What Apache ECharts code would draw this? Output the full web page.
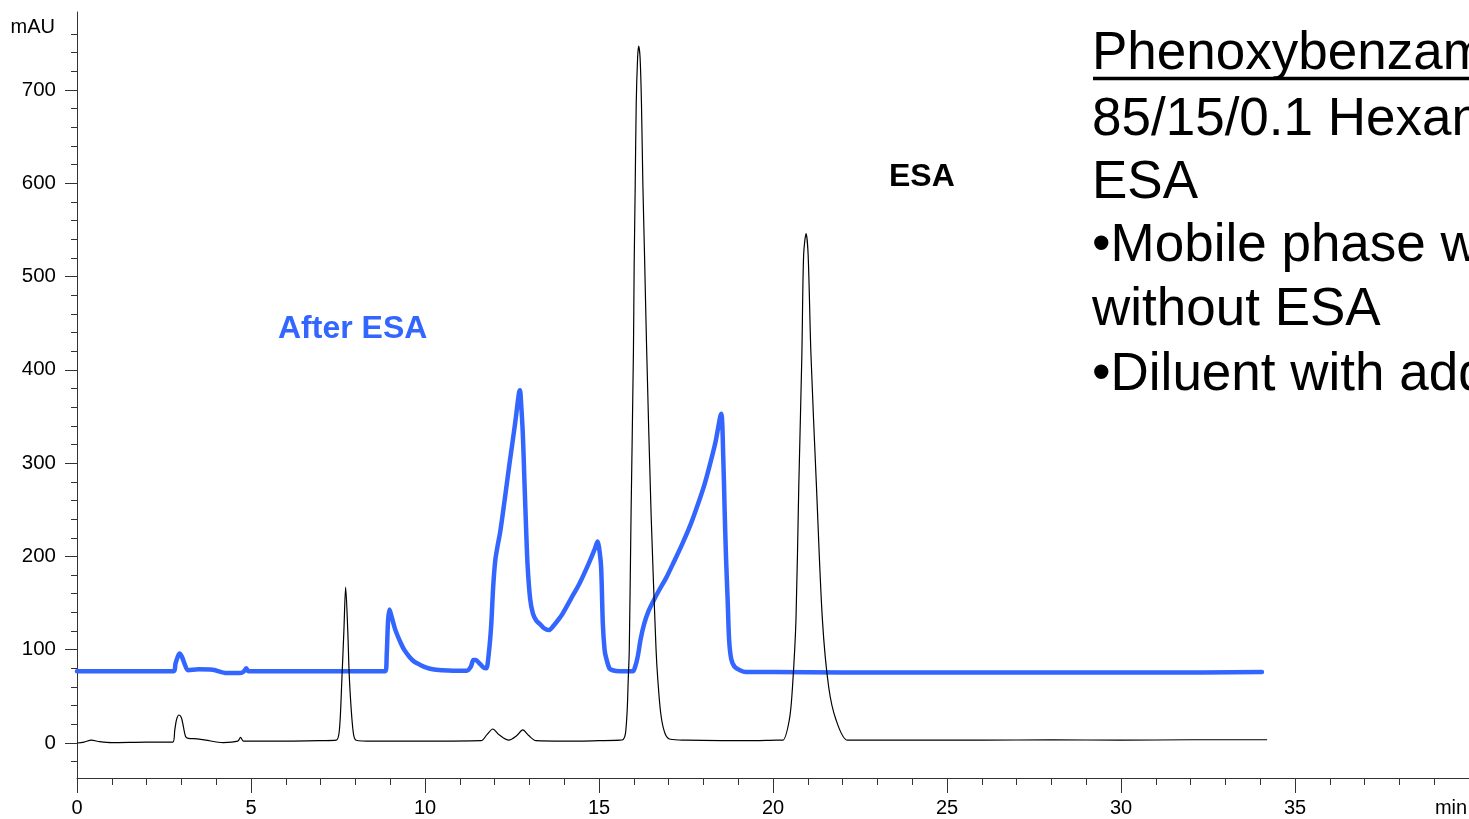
<!DOCTYPE html>
<html>
<head>
<meta charset="utf-8">
<script src="https://cdn.jsdelivr.net/npm/echarts@6/dist/echarts.min.js"></script>
<style>
html,body{margin:0;padding:0;background:#fff;}
#chart{width:1469px;height:819px;}
</style>
</head>
<body>
<div id="chart"></div>
<script>
// ---- data (minutes, mAU) ----
const xTickLabels = [0, 5, 10, 15, 20, 25, 30, 35];
const yMajorTicks = [0, 100, 200, 300, 400, 500, 600, 700];
const yMinorTicks = [-20, 20, 40, 60, 80, 120, 140, 160, 180, 220, 240, 260, 280, 320, 340, 360, 380,
  420, 440, 460, 480, 520, 540, 560, 580, 620, 640, 660, 680, 720, 740, 760];

// black trace (ESA)
const esaTrace = [
  [0,0],[0.2,1],[0.41,3],[0.65,1.5],[1.0,0.5],[2.0,1],[2.75,1],[2.81,14],[2.86,25],[2.93,30],
  [3.0,27],[3.06,17],[3.12,7],[3.2,5],[3.45,4.5],[3.7,3],[4.2,0.5],[4.62,2],[4.70,6],[4.78,2],
  [5.0,2],[6.0,2],[7.0,2.5],[7.45,3],[7.54,14],[7.61,67],[7.67,121],[7.72,167],[7.78,121],[7.83,67],
  [7.93,14],[8.02,3],[8.5,2],[10.0,2],[11.61,2.5],[11.78,9],[11.95,15],[12.12,9],[12.41,3],[12.64,8],
  [12.81,14],[12.98,8],[13.19,2.5],[14.0,2],[15.0,2.5],[15.6,3],[15.70,4],[15.76,10],[15.81,35],[15.84,68],
  [15.87,100],[15.92,242],[15.99,421],[16.01,510],[16.04,596],[16.07,686],[16.11,735],[16.14,747],[16.18,735],[16.22,686],
  [16.26,600],[16.31,520],[16.37,421],[16.50,242],[16.64,100],[16.69,68],[16.78,30],[16.90,10],[17.05,4],[17.5,3],
  [18.5,2.5],[19.5,2.5],[20.1,3],[20.28,3],[20.47,25],[20.56,60],[20.66,132],[20.74,274],[20.83,417],[20.88,523],
  [20.95,546],[21.01,523],[21.09,417],[21.25,274],[21.42,132],[21.60,60],[21.81,25],[22.14,3],[22.6,3],[24,3],
  [26,3],[28,3.5],[30,3],[32,3.5],[34.2,3.5]
];

// blue trace (After ESA)
const afterEsaTrace = [
  [0,77],[2.78,77],[2.83,85],[2.9,93],[2.95,96],[3.02,92],[3.1,84],[3.19,78],[3.5,79],[3.9,78.5],
  [4.3,75],[4.7,75],[4.8,77],[4.86,80],[4.93,77],[5.5,77],[7,77],[8.86,77],[8.9,95],[8.94,132],
  [8.98,143],[9.05,134],[9.15,121],[9.27,110],[9.4,100],[9.56,92],[9.7,87],[9.85,84],[10.02,81],[10.22,79],
  [10.5,78],[10.8,77.5],[11.2,77.5],[11.32,82],[11.39,89],[11.46,89],[11.55,86],[11.68,81],[11.76,80],[11.83,95],
  [11.90,125],[11.96,168],[12.02,196],[12.08,210],[12.16,226],[12.28,258],[12.43,300],[12.58,340],[12.70,375],[12.73,378],
  [12.76,365],[12.81,332],[12.86,278],[12.91,225],[12.95,189],[13.02,155],[13.10,139],[13.2,131],[13.29,128],[13.42,123],
  [13.56,121],[13.7,126],[13.85,133],[13.96,139],[14.2,155],[14.44,171],[14.7,192],[14.88,208],[14.96,216],[15.0,210],
  [15.06,189],[15.11,128],[15.16,100],[15.20,92],[15.30,80],[15.39,78],[15.59,77],[15.97,77],[16.04,82],[16.11,92],
  [16.2,112],[16.30,128],[16.42,141],[16.56,152],[16.73,164],[16.93,177],[17.15,194],[17.40,214],[17.65,236],[17.88,260],
  [18.03,277],[18.17,296],[18.35,323],[18.51,353],[18.57,307],[18.61,250],[18.65,199],[18.70,150],[18.74,110],[18.8,90],
  [18.89,82],[19.05,78],[19.22,76],[20,76],[22,75.5],[25,75.5],[28,75.5],[31,75.5],[34.05,76]
];

const noteLines = [
  'Phenoxybenzamine',
  '85/15/0.1 Hexane/IPA/',
  'ESA',
  '\u2022Mobile phase with and',
  'without ESA',
  '\u2022Diluent with added ESA'
];

const FONT = '"Liberation Sans", Arial, sans-serif';
const AXIS_COLOR = '#333';

const chart = echarts.init(document.getElementById('chart'), null, {renderer: 'canvas'});

const noteY = [54, 120, 183, 246, 310, 375];
const graphics = [
  {type: 'text', style: {text: 'mAU', x: 55, y: 27, fill: '#000', font: '20px ' + FONT, textAlign: 'right', textVerticalAlign: 'middle'}},
  {type: 'text', style: {text: 'min', x: 1451, y: 808, fill: '#000', font: '20px ' + FONT, textAlign: 'center', textVerticalAlign: 'middle'}},
  {type: 'text', style: {text: 'After ESA', x: 278, y: 329, fill: '#3366ff', font: 'bold 32px ' + FONT, textAlign: 'left', textVerticalAlign: 'middle'}},
  {type: 'text', style: {text: 'ESA', x: 889, y: 177, fill: '#000', font: 'bold 32px ' + FONT, textAlign: 'left', textVerticalAlign: 'middle'}},
  {type: 'line', shape: {x1: 1093, y1: 78.5, x2: 1469, y2: 78.5}, style: {stroke: '#000', lineWidth: 3.5}}
];
noteLines.forEach((t, i) => {
  graphics.push({type: 'text', style: {text: t, x: 1092, y: noteY[i], fill: '#000', font: '53px ' + FONT, textAlign: 'left', textVerticalAlign: 'middle'}});
});

chart.setOption({
  animation: false,
  backgroundColor: '#fff',
  grid: {left: 77, right: 0, top: 12, bottom: 41, containLabel: false},
  xAxis: {
    type: 'value', min: 0, max: 40, interval: 5,
    axisLine: {show: true, onZero: false, lineStyle: {color: AXIS_COLOR, width: 1}},
    axisTick: {show: true, inside: false, length: 15, lineStyle: {color: AXIS_COLOR, width: 1}},
    minorTick: {show: true, splitNumber: 5, length: 7, lineStyle: {color: AXIS_COLOR, width: 1}},
    splitLine: {show: false}, minorSplitLine: {show: false},
    axisLabel: {
      show: true, margin: 20, color: '#000', fontSize: 20, fontFamily: FONT,
      showMaxLabel: false,
      formatter: v => (xTickLabels.indexOf(v) >= 0 ? String(v) : '')
    }
  },
  yAxis: [
    {
      type: 'value', min: -37.5, max: 783.5,
      axisLine: {show: true, onZero: false, lineStyle: {color: AXIS_COLOR, width: 1}},
      axisTick: {show: true, inside: false, length: 12, customValues: yMajorTicks, lineStyle: {color: AXIS_COLOR, width: 1}},
      axisLabel: {show: true, margin: 21, color: '#000', fontSize: 20.5, fontFamily: FONT, customValues: yMajorTicks},
      splitLine: {show: false}
    },
    {
      type: 'value', min: -37.5, max: 783.5, position: 'left', offset: 0,
      axisLine: {show: false},
      axisTick: {show: true, inside: false, length: 6, customValues: yMinorTicks, lineStyle: {color: AXIS_COLOR, width: 1}},
      axisLabel: {show: false, customValues: yMinorTicks},
      splitLine: {show: false}
    }
  ],
  graphic: graphics,
  series: [
    {
      name: 'After ESA', type: 'line', yAxisIndex: 0, showSymbol: false, smooth: 0.3,
      data: afterEsaTrace,
      lineStyle: {color: '#3366ff', width: 4.5, join: 'round', cap: 'round'},
      z: 2
    },
    {
      name: 'ESA', type: 'line', yAxisIndex: 0, showSymbol: false, smooth: 0.3,
      data: esaTrace,
      lineStyle: {color: '#000', width: 1.2},
      z: 3
    }
  ]
});
</script>
</body>
</html>
